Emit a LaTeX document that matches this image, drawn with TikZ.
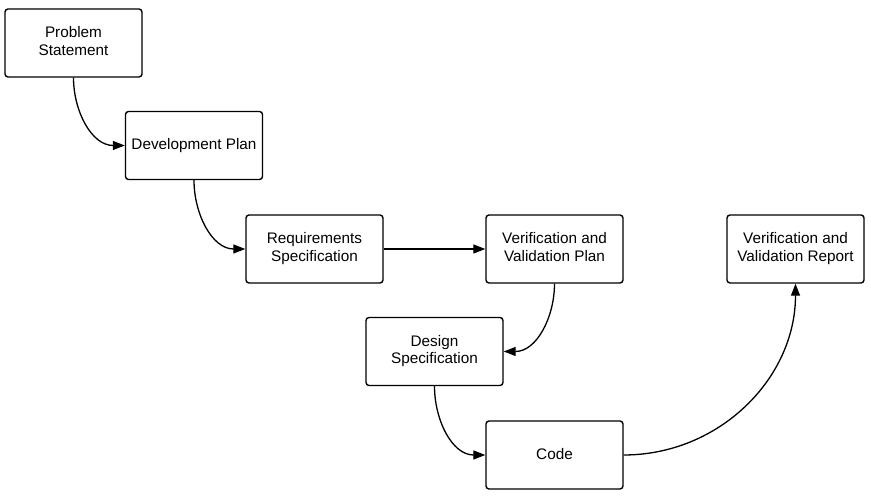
\documentclass[tikz,border=0pt]{standalone}
\usepackage{fontspec}
\setmainfont{Liberation Sans}
\usetikzlibrary{arrows.meta}
\newcommand{\twolines}[2]{\raisebox{2.5pt}{\begin{tabular}{@{}c@{}}#1\\#2\end{tabular}}}
\begin{document}
\begin{tikzpicture}[x=1pt,y=1pt,
  box/.style={draw=black, line width=1.4pt, rounded corners=3pt, fill=white,
    minimum width=137pt, minimum height=68pt, inner sep=0pt,
    align=center, font=\fontsize{15.3}{18}\selectfont},
  conn/.style={line width=1.3pt, -{Triangle[length=12pt,width=9pt]}}]
\useasboundingbox (0,0) rectangle (871,497);
\renewcommand{\arraystretch}{0.98}
\node[box] (ps) at (73.5,454) {\twolines{Problem}{Statement}};
\node[box] (dp) at (194,351.5) {Development Plan};
\node[box] (rs) at (314.5,248) {\twolines{Requirements}{Specification}};
\node[box] (vvp) at (554.5,248) {\twolines{Verification and}{Validation Plan}};
\node[box] (vvr) at (795.5,248) {\twolines{Verification and}{Validation Report}};
\node[box] (ds) at (434.5,145.5) {\twolines{Design}{Specification}};
\node[box] (code) at (554.5,42) {\raisebox{1.5pt}{Code}};
\draw[conn] (ps.south) to[out=-90,in=180] (dp.west);
\draw[conn] (dp.south) to[out=-90,in=180] (rs.west);
\draw[conn] (rs.east) -- (vvp.west);
\draw[conn] (vvp.south) to[out=-90,in=0] (ds.east);
\draw[conn] (ds.south) to[out=-90,in=180] (code.west);
\draw[conn] (code.east) to[out=0,in=-90] (vvr.south);
\end{tikzpicture}
\end{document}
